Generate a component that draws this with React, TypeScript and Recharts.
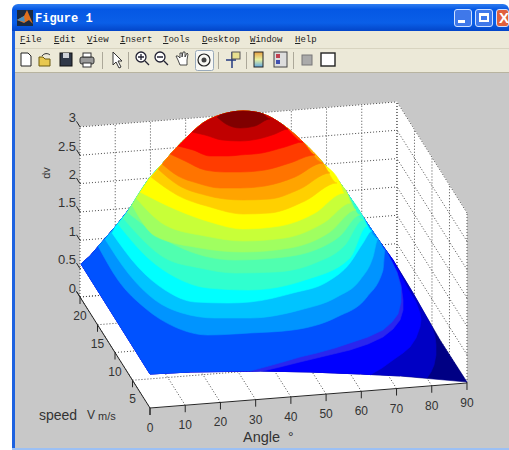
// App.tsx - MATLAB "Figure 1" window with a 3D contour surface, drawn on one pixel-scaled ScatterChart
import React from "react";
import { ScatterChart, Scatter, XAxis, YAxis } from "recharts";

type Pt = [number, number];
type XY = { x: number; y: number };

const angleTicks = [0, 10, 20, 30, 40, 50, 60, 70, 80, 90];
const speedTicks = [5, 10, 15, 20];
const dvTicks = [0, 0.5, 1, 1.5, 2, 2.5, 3];
const menuItems = ["File", "Edit", "View", "Insert", "Tools", "Desktop", "Window", "Help"];
const menuLeft = [20, 54, 87, 120, 163, 202, 250, 295];

// upper outline of the surface as seen on screen, left corner to right corner
const dome: Pt[] = [
  [81, 264], [90, 256], [102, 242], [115, 227], [130, 208], [148, 180], [163, 163], [177, 147],
  [187, 137], [203, 123], [220, 115], [232, 112], [243, 111], [255, 112], [263, 114], [283, 125],
  [303, 142], [323, 163], [340, 183], [347, 193], [363, 217], [380, 242], [393, 260], [413, 293],
  [440, 340], [467, 382],
];
const frontEdge: Pt[] = [[150, 374], [190, 372], [260, 371], [310, 372], [360, 374], [400, 376], [467, 382]];

// contour lines that start on the front edge (lowest values)
const lowColors = ["#0000c4", "#0000ff", "#2a26ee", "#0052ff"];
const lowArcs: Pt[][] = [
  [[427, 378], [431, 372], [434, 365], [436, 355], [436, 345], [435, 336], [432, 327]],
  [[370, 375], [382, 368], [393, 360], [403, 353], [410, 347], [416, 338], [420, 327], [421, 320], [420, 313], [416, 302], [408, 289]],
  [[263, 371], [280, 367], [300, 362], [325, 356], [350, 350], [368, 344], [383, 337], [393, 329], [400, 320], [403, 310], [403, 300], [401, 285], [397, 272], [392, 262]],
  [[250, 371], [265, 367], [283, 362], [300, 357], [317, 353], [335, 348], [350, 343], [368, 337], [383, 330], [392, 322], [398, 314], [401, 302], [401, 288], [397, 273], [392, 262], [387, 252]],
];
const baseColor = "#000084";

// contour lines that start and end on the dome
const highColors = [
  "#0094ff", "#00c4ff", "#00ffff", "#30ffcf", "#50ffaf", "#78ff87", "#a0ff60", "#c8ff38",
  "#ffff00", "#ffd000", "#ffa400", "#ff7400", "#ff3c00", "#ff0000", "#c00000", "#800000",
];
const highArcs: Pt[][] = [
  [[98, 246], [118, 280], [145, 308], [175, 327], [208, 335], [250, 333], [293, 330], [337, 317], [367, 297], [383, 270], [385, 250]],
  [[105, 239], [128, 273], [155, 300], [182, 313], [215, 318], [250, 318], [300, 310], [337, 297], [360, 280], [373, 257], [378, 239]],
  [[112, 233], [138, 267], [165, 290], [195, 302], [228, 303], [250, 302], [293, 293], [327, 282], [350, 263], [363, 243], [372, 231]],
  [[118, 224], [148, 258], [175, 277], [208, 288], [248, 290], [305, 280], [350, 258], [367, 226]],
  [[123, 218], [165, 258], [200, 268], [235, 273], [275, 272], [315, 263], [345, 245], [363, 220]],
  [[127, 212], [175, 245], [235, 260], [275, 258], [315, 250], [340, 236], [360, 215]],
  [[132, 205], [155, 236], [200, 248], [243, 252], [290, 248], [330, 232], [356, 210]],
  [[136, 198], [165, 225], [205, 236], [243, 241], [285, 238], [325, 222], [351, 203]],
  [[140, 192], [177, 210], [210, 222], [243, 229], [280, 226], [315, 213], [344, 193]],
  [[151, 177], [177, 195], [210, 207], [243, 214], [270, 213], [305, 201], [337, 183]],
  [[158, 169], [178, 185], [205, 195], [225, 199], [243, 200], [270, 199], [300, 189], [330, 173]],
  [[162, 164], [178, 176], [197, 183], [220, 188], [240, 188], [265, 186], [295, 177], [323, 163]],
  [[170, 154], [185, 161], [205, 170], [225, 172], [240, 172], [265, 170], [290, 163], [315, 155]],
  [[178, 146], [193, 150], [210, 156], [228, 156], [240, 155], [262, 153], [285, 147], [303, 142]],
  [[192, 132], [205, 135], [222, 140], [240, 141], [258, 139], [275, 134], [288, 129]],
  [[217, 117], [226, 124], [240, 128], [255, 126], [270, 119]],
];

// orthographic view of the axes box, same as the MATLAB camera
const project = (angle: number, speed: number, dv: number): XY => ({
  x: 150 + 3.522 * angle - 3.5 * speed,
  y: 408 - 0.278 * angle - 5.55 * speed - 56.7 * dv,
});

const toPoints = (pts: Pt[]): XY[] => pts.map(([x, y]) => ({ x, y }));

const surfacePolygon = () => toPoints([...dome, ...[...frontEdge].reverse()]);

const lowRegion = (arc: Pt[]) => {
  const start = arc[0];
  const end = arc[arc.length - 1];
  const upper = dome.filter((p) => p[0] < end[0]).reverse();
  const front = frontEdge.filter((p) => p[0] < start[0]);
  return toPoints([...arc, ...upper, ...front]);
};

const highRegion = (arc: Pt[]) => {
  const start = arc[0];
  const end = arc[arc.length - 1];
  const upper = dome.filter((p) => p[0] > start[0] && p[0] < end[0]).reverse();
  return toPoints([...arc, ...upper]);
};

const seg = (a: number[], b: number[]) => [project(a[0], a[1], a[2]), project(b[0], b[1], b[2])];
const tickDown = (p: XY) => [p, { x: p.x, y: p.y + 7 }];

const NoDot = () => <g />;

const fillRegion = (key: string, data: XY[], color: string, smooth = false) => (
  <Scatter
    key={key}
    data={data}
    line={{ fill: color, stroke: color, strokeWidth: 0.6 }}
    lineType="joint"
    lineJointType={smooth ? "monotoneX" : "linear"}
    shape={NoDot}
    isAnimationActive={false}
    legendType="none"
  />
);

const rule = (key: string, data: XY[], dotted: boolean) => (
  <Scatter
    key={key}
    data={data}
    line={
      dotted
        ? { stroke: "#4a4a4a", strokeWidth: 1, strokeDasharray: "1 2", fill: "none" }
        : { stroke: "#262626", strokeWidth: 1, fill: "none" }
    }
    lineType="joint"
    shape={NoDot}
    isAnimationActive={false}
    legendType="none"
  />
);

const labelShape = (anchor: string, size: number) =>
  function LabelShape(p: any) {
    return (
      <text
        x={p.cx}
        y={p.cy}
        textAnchor={anchor}
        dominantBaseline="central"
        fontFamily="'Liberation Sans', Arial, sans-serif"
        fontSize={size}
        fill="#333"
      >
        {p.payload.label}
      </text>
    );
  };

const labels = (key: string, data: any[], anchor: string, size: number) => (
  <Scatter key={key} data={data} shape={labelShape(anchor, size)} isAnimationActive={false} legendType="none" />
);

function Icons() {
  return (
    <svg width={509} height={26} style={{ position: "absolute", left: 0, top: 48 }}>
      <defs>
        <linearGradient id="rainbow" x1="0" y1="0" x2="0" y2="1">
          <stop offset="0" stopColor="#e8a040" />
          <stop offset="0.5" stopColor="#e8f0a0" />
          <stop offset="1" stopColor="#60a8e0" />
        </linearGradient>
      </defs>
      <path d="M21 5h7l3 3v10H21z" fill="#fff" stroke="#222" />
      <path d="M39 9h4l2 2h5v7H39z" fill="#e8c850" stroke="#6a5a10" />
      <path d="M42 8c2-3 6-3 8-1" fill="none" stroke="#333" />
      <rect x={60} y={5} width={12} height={13} fill="#303848" stroke="#111" />
      <rect x={63} y={5} width={6} height={5} fill="#cfd2d8" />
      <rect x={80} y={9} width={14} height={7} rx={2} fill="#9a9a9a" stroke="#333" />
      <rect x={83} y={5} width={8} height={4} fill="#fff" stroke="#333" />
      <rect x={83} y={15} width={8} height={4} fill="#fff" stroke="#333" />
      <path d="M113 4v13l3-3 3 6 2-1-3-6h4z" fill="#fff" stroke="#333" />
      <circle cx={141} cy={9} r={5} fill="#fff" stroke="#223" strokeWidth={1.3} />
      <path d="M138 9h6M141 6v6M145 13l4 4" stroke="#223" strokeWidth={1.3} />
      <circle cx={160} cy={9} r={5} fill="#fff" stroke="#223" strokeWidth={1.3} />
      <path d="M157 9h6M164 13l4 4" stroke="#223" strokeWidth={1.3} />
      <path d="M178 12l-2-4 2 0 2 2 0-5 2 0 0 4 1-5 2 0 0 5 2-4 1 1-1 6 0 5-7 0z" fill="#fff" stroke="#222" strokeWidth={0.8} />
      <rect x={195.5} y={2.5} width={18} height={20} rx={2} fill="#f8f8f4" stroke="#9ab" />
      <circle cx={204} cy={12} r={6} fill="none" stroke="#222" strokeWidth={1.2} />
      <circle cx={204} cy={12} r={2.5} fill="#444" />
      <path d="M232 4v16M226 12h10" stroke="#233a80" strokeWidth={1.5} />
      <rect x={232} y={4} width={8} height={7} fill="#e8e090" stroke="#555" />
      <rect x={254} y={4} width={9} height={15} fill="url(#rainbow)" stroke="#222" />
      <rect x={274} y={4} width={13} height={15} fill="#ddd" stroke="#444" />
      <rect x={276} y={6} width={4} height={4} fill="#c04050" />
      <rect x={276} y={12} width={4} height={4} fill="#4050b0" />
      <rect x={302} y={7} width={10} height={10} fill="#aaa" stroke="#777" />
      <rect x={321} y={5} width={14} height={13} fill="#fff" stroke="#222" strokeWidth={1.4} />
      <g stroke="#aca899">
        <path d="M102.5 4v17M128.5 4v17M218.5 4v17M246.5 4v17M293.5 4v17" />
      </g>
    </svg>
  );
}

function Chrome() {
  const mono = "'Liberation Mono', 'DejaVu Sans Mono', monospace";
  return (
    <>
      <div style={{ position: "absolute", left: 12, top: 4, width: 497, height: 27, borderRadius: "6px 6px 0 0", background: "linear-gradient(#2f7df0 0%, #0558e4 20%, #0a5fe8 70%, #0345c8 100%)" }} />
      <svg width={16} height={16} style={{ position: "absolute", left: 17, top: 10 }}>
        <rect width={16} height={16} fill="#1a2a40" />
        <path d="M0 10L7 6l3-6 6 14-4-4-5 3z" fill="#e0701c" />
        <path d="M0 10L7 6l1 6z" fill="#4a90c0" />
      </svg>
      <div style={{ position: "absolute", left: 35, top: 12, color: "#fff", fontFamily: mono, fontWeight: 700, fontSize: 12, lineHeight: "14px", whiteSpace: "pre" }}>Figure 1</div>
      {[
        { left: 454, width: 18, bg: "#3f78ea" },
        { left: 475, width: 18, bg: "#3f78ea" },
        { left: 496, width: 13, bg: "#e0603c" },
      ].map((b) => (
        <div key={b.left} style={{ position: "absolute", left: b.left, top: 9, width: b.width, height: 18, background: b.bg, border: "1px solid #cfe0ff", borderRadius: 3, boxSizing: "border-box" }} />
      ))}
      <div style={{ position: "absolute", left: 458, top: 20, width: 7, height: 3, background: "#fff" }} />
      <div style={{ position: "absolute", left: 479, top: 13, width: 10, height: 9, border: "2px solid #fff", borderTopWidth: 3, boxSizing: "border-box" }} />
      <div style={{ position: "absolute", left: 499, top: 9, color: "#fff", fontFamily: "'Liberation Sans'", fontWeight: 700, fontSize: 15, lineHeight: "18px" }}>X</div>

      <div style={{ position: "absolute", left: 12, top: 31, width: 497, height: 42, background: "#ece9d8" }} />
      <div style={{ position: "absolute", left: 15, top: 48, width: 494, height: 1, background: "#d8d4c0" }} />
      <div style={{ position: "absolute", left: 12, top: 31, width: 3, height: 417, background: "#1d62e0" }} />
      {menuItems.map((m, i) => (
        <div key={m} style={{ position: "absolute", left: menuLeft[i], top: 34, fontFamily: mono, fontSize: 9, lineHeight: "12px", color: "#222", whiteSpace: "pre" }}>
          <span style={{ textDecoration: "underline" }}>{m[0]}</span>
          {m.slice(1)}
        </div>
      ))}
      <Icons />
      <div style={{ position: "absolute", left: 15, top: 72, width: 494, height: 1, background: "#b8b4a0" }} />
      <div style={{ position: "absolute", left: 15, top: 73, width: 494, height: 375, background: "#c8c8c8" }} />
      <div style={{ position: "absolute", left: 12, top: 448, width: 497, height: 2, background: "#9cc0f4" }} />
    </>
  );
}

const wallBack = [project(0, 20, 0), project(90, 20, 0), project(90, 20, 3), project(0, 20, 3)];
const wallSide = [project(90, 0, 0), project(90, 20, 0), project(90, 20, 3), project(90, 0, 3)];
const floor = [project(0, 0, 0), project(90, 0, 0), project(90, 20, 0), project(0, 20, 0)];

export default function App() {
  const dottedLines = [
    ...angleTicks.map((a) => seg([a, 20, 0], [a, 20, 3])),
    ...dvTicks.map((z) => seg([0, 20, z], [90, 20, z])),
    ...[0, ...speedTicks].map((s) => seg([90, s, 0], [90, s, 3])),
    ...dvTicks.map((z) => seg([90, 0, z], [90, 20, z])),
    ...angleTicks.map((a) => seg([a, 0, 0], [a, 20, 0])),
    ...speedTicks.map((s) => seg([0, s, 0], [90, s, 0])),
  ];
  const solidLines = [
    seg([0, 0, 0], [90, 0, 0]),
    seg([0, 0, 0], [0, 21, 0]),
    ...dvTicks.map((z) => seg([0, 20, z], [0, 21, z])),
    ...[0, ...speedTicks].map((s) => tickDown(project(0, s, 0))),
    ...angleTicks.map((a) => tickDown(project(a, 0, 0))),
  ];
  const dvLabels = dvTicks.map((z) => {
    const p = project(0, 20, z);
    return { x: p.x - 4, y: p.y - 9, label: String(z) };
  });
  const speedLabels = speedTicks.map((s) => {
    const p = project(0, s, 0);
    return { x: p.x, y: p.y + 19, label: String(s) };
  });
  const angleLabels = angleTicks.map((a) => {
    const p = project(a, 0, 0);
    return { x: p.x, y: p.y + 20, label: String(a) };
  });

  return (
    <div style={{ position: "absolute", left: 0, top: 0, width: 509, height: 450, background: "#fff", overflow: "hidden" }}>
      <Chrome />
      <div style={{ position: "absolute", left: 0, top: 0 }}>
        <ScatterChart width={509} height={450} margin={{ top: 0, right: 0, bottom: 0, left: 0 }}>
          <XAxis type="number" dataKey="x" domain={[0, 509]} hide allowDataOverflow />
          <YAxis type="number" dataKey="y" domain={[0, 450]} reversed hide allowDataOverflow />

          {fillRegion("wallBack", wallBack, "#fff")}
          {fillRegion("wallSide", wallSide, "#fff")}
          {fillRegion("floor", floor, "#fff")}

          {dottedLines.map((d, i) => rule(`g${i}`, d, true))}
          {solidLines.map((d, i) => rule(`s${i}`, d, false))}

          {fillRegion("surface", surfacePolygon(), baseColor)}
          {lowArcs.map((arc, i) => fillRegion(`l${i}`, lowRegion(arc), lowColors[i]))}
          {highArcs.map((arc, i) => fillRegion(`h${i}`, highRegion(arc), highColors[i], true))}

          {labels("dvLabels", dvLabels, "end", 13)}
          {labels("speedLabels", speedLabels, "middle", 12)}
          {labels("angleLabels", angleLabels, "middle", 12)}
          {labels("speedName", [{ x: 39, y: 415, label: "speed" }], "start", 14)}
          {labels("speedUnitV", [{ x: 87, y: 415, label: "V" }], "start", 12)}
          {labels("speedUnit", [{ x: 98, y: 416, label: "m/s" }], "start", 11)}
          {labels("angleName", [{ x: 243, y: 437, label: "Angle" }], "start", 14.5)}
          {labels("angleUnit", [{ x: 288, y: 437, label: "°" }], "start", 14)}
          <Scatter
            data={[{ x: 46, y: 173, label: "dv" }]}
            shape={(p: any) => (
              <text x={p.cx} y={p.cy} transform={`rotate(-90 ${p.cx} ${p.cy})`} textAnchor="middle" dominantBaseline="central" fontFamily="'Liberation Sans', Arial, sans-serif" fontSize={11} fill="#333">
                {p.payload.label}
              </text>
            )}
            isAnimationActive={false}
            legendType="none"
          />
        </ScatterChart>
      </div>
    </div>
  );
}
